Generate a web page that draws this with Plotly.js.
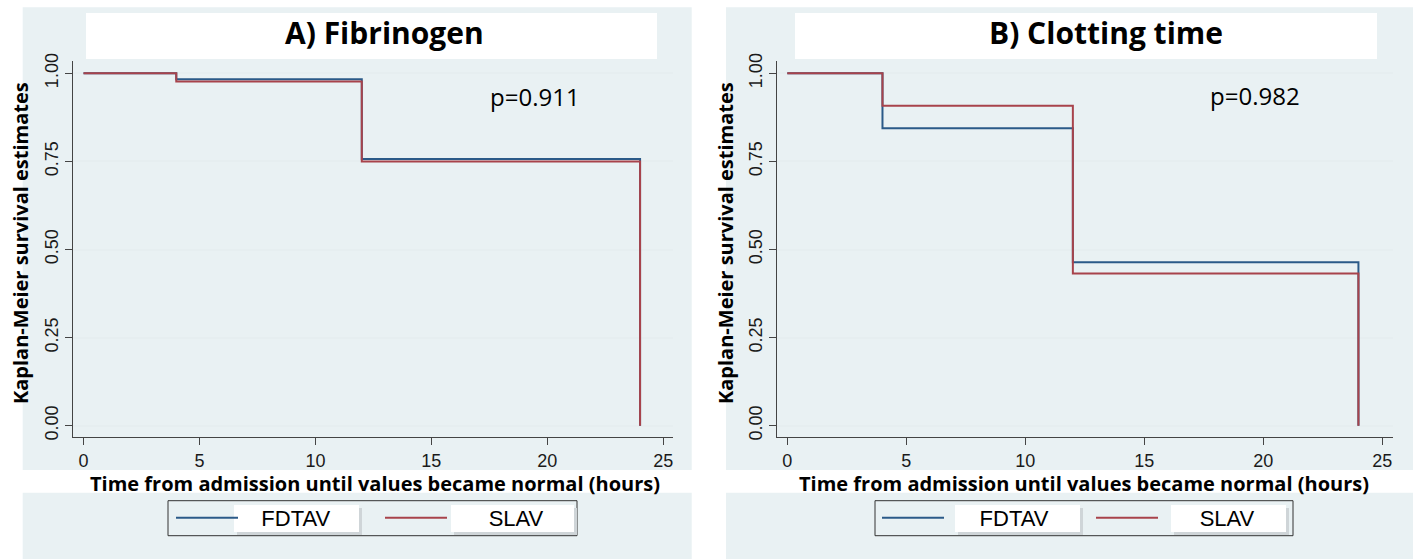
<!DOCTYPE html>
<html>
<head>
<meta charset="utf-8">
<script src="https://cdn.plot.ly/plotly-3.0.1.min.js"></script>
<style>
html,body{margin:0;padding:0;background:#fff;}
#chart{width:1413px;height:559px;}
</style>
</head>
<body>
<div id="chart"></div>
<script>
// ---- data ----
const seriesNames = ['FDTAV', 'SLAV'];
const eventTimes = [0, 4, 12, 24];
const fibFDTAV = [1.000, 0.983, 0.757, 0.000];
const fibSLAV  = [1.000, 0.977, 0.750, 0.000];
const ctFDTAV  = [1.000, 0.844, 0.464, 0.000];
const ctSLAV   = [1.000, 0.908, 0.432, 0.000];
const panelTitles = ['A) Fibrinogen', 'B) Clotting time'];
const pValues = ['p=0.911', 'p=0.982'];
const xTickVals = [0, 5, 10, 15, 20, 25];
const xTickText = ['0', '5', '10', '15', '20', '25'];
const yTickVals = [0, 0.25, 0.5, 0.75, 1];
const yTickText = ['0.00', '0.25', '0.50', '0.75', '1.00'];
const yTitle = 'Kaplan-Meier survival estimates';
const xTitle = 'Time from admission until values became normal (hours)';

// ---- style ----
const W = 1413, H = 559;
const px = v => v / W;
const py = v => 1 - v / H;
const BLUE = '#2b5a88';
const RED = '#a8434b';
const PANEL = '#e9f1f3';
const GRID = '#e6eef0';
const AXIS = '#444444';
const TICKFONT = {family: 'Liberation Sans, Arial, sans-serif', size: 18, color: '#1a1a1a'};
const BOLD = 'Open Sans, sans-serif';
const nb = n => '\u00a0'.repeat(n);

function trace(y, name, padN, color, xa, ya, leg) {
  return {x: eventTimes, y: y, name: nb(padN) + name, type: 'scatter', mode: 'lines',
    line: {shape: 'hv', color: color, width: 2}, xaxis: xa, yaxis: ya,
    legend: leg, hoverinfo: 'x+y'};
}

const data = [
  trace(fibFDTAV, seriesNames[0], 3, BLUE, 'x', 'y', 'legend'),
  trace(fibSLAV, seriesNames[1], 6, RED, 'x', 'y', 'legend'),
  trace(ctFDTAV, seriesNames[0], 5, BLUE, 'x2', 'y2', 'legend2'),
  trace(ctSLAV, seriesNames[1], 6, RED, 'x2', 'y2', 'legend2')
];

function xax(domain, range, anchor) {
  return {domain: domain, range: range, anchor: anchor, tickvals: xTickVals, ticktext: xTickText,
    ticks: 'outside', ticklen: 7, tickcolor: AXIS, tickwidth: 1, showline: true, linecolor: AXIS,
    linewidth: 1, showgrid: false, zeroline: false, tickfont: TICKFONT, fixedrange: true};
}
function yax(domain, anchor) {
  return {domain: domain, range: [-0.0329, 1.0349], anchor: anchor, tickvals: yTickVals, ticktext: yTickText,
    tickangle: -90, ticks: 'outside', ticklen: 7, tickcolor: AXIS, tickwidth: 1, showline: true,
    linecolor: AXIS, linewidth: 1, showgrid: true, gridcolor: GRID, gridwidth: 2, zeroline: false,
    tickfont: TICKFONT, fixedrange: true};
}

const yDom = [py(437.3), py(61)];

const rect = (x0, y0, x1, y1, fill, line) => ({type: 'rect', xref: 'paper', yref: 'paper',
  x0: px(x0), x1: px(x1), y0: py(y1), y1: py(y0), fillcolor: fill,
  line: line ? {color: line, width: 1} : {width: 0}, layer: 'below'});

const shapes = [
  rect(22.7, 7.3, 691.7, 470, PANEL), rect(22.7, 492.7, 691.7, 559, PANEL),
  rect(726, 7.3, 1413, 470, PANEL), rect(726, 492.7, 1413, 559, PANEL),
  rect(86, 13, 657, 59, '#ffffff'), rect(795, 13, 1377, 59, '#ffffff'),
  // legend boxes
  rect(168, 500.7, 577, 535.7, PANEL, '#333333'),
  rect(875, 500.7, 1293, 535.7, PANEL, '#333333'),
  // white label boxes with soft shadow
  rect(237, 508, 362, 535, '#cfd5d8'), rect(234, 505, 359, 532, '#ffffff'),
  rect(454, 508, 577, 535, '#cfd5d8'), rect(451, 505, 574, 532, '#ffffff'),
  rect(958, 508, 1083, 535, '#cfd5d8'), rect(955, 505, 1080, 532, '#ffffff'),
  rect(1174, 508, 1289, 535, '#cfd5d8'), rect(1171, 505, 1286, 532, '#ffffff')
];

const ann = (text, x, y, size, bold, extra) => Object.assign({text: text, xref: 'paper', yref: 'paper',
  x: px(x), y: py(y), xanchor: 'center', yanchor: 'middle', showarrow: false,
  font: {family: BOLD, size: size, color: '#000', weight: bold ? 700 : 400}}, extra || {});

const annotations = [
  ann(panelTitles[0], 384, 32, 30, true),
  ann(panelTitles[1], 1106, 32, 30, true),
  ann(yTitle, 20, 243, 20, true, {textangle: -90}),
  ann(yTitle, 725, 243, 20, true, {textangle: -90}),
  ann(xTitle, 374.5, 483.5, 20, true),
  ann(xTitle, 1084, 483.5, 20, true),
  {text: pValues[0], xref: 'x', yref: 'y', x: 19.49, y: 0.935, showarrow: false, xanchor: 'center',
   yanchor: 'middle', font: {family: BOLD, size: 24, color: '#000'}},
  {text: pValues[1], xref: 'x2', yref: 'y2', x: 19.67, y: 0.938, showarrow: false, xanchor: 'center',
   yanchor: 'middle', font: {family: BOLD, size: 24, color: '#000'}}
];

const legFont = {family: 'Liberation Sans, Arial, sans-serif', size: 22, color: '#000'};
const legendBase = {orientation: 'h', bgcolor: 'rgba(0,0,0,0)', borderwidth: 0, itemwidth: 62,
  font: legFont, xanchor: 'left', yanchor: 'middle', entrywidthmode: 'pixels',
  itemclick: false, itemdoubleclick: false, traceorder: 'normal'};

const layout = {
  width: W, height: H, margin: {l: 0, r: 0, t: 0, b: 0}, paper_bgcolor: '#ffffff', plot_bgcolor: '#ffffff',
  showlegend: true,
  xaxis: xax([px(72.7), px(673)], [-0.466, 25.42], 'y'),
  yaxis: yax(yDom, 'x'),
  xaxis2: xax([px(777.3), px(1392.7)], [-0.42, 25.44], 'y2'),
  yaxis2: yax(yDom, 'x2'),
  legend: Object.assign({}, legendBase, {x: px(171), y: py(518), entrywidth: 132}),
  legend2: Object.assign({}, legendBase, {x: px(877), y: py(518), entrywidth: 137}),
  shapes: shapes,
  annotations: annotations
};

Plotly.newPlot('chart', data, layout, {displayModeBar: false, staticPlot: true});
</script>
</body>
</html>
